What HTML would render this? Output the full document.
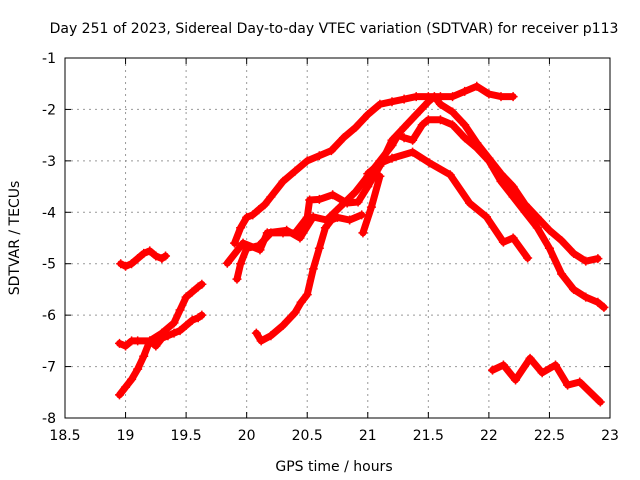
<!DOCTYPE html>
<html><head><meta charset="utf-8"><style>
body{margin:0;background:#fff}
svg{display:block;font-family:"DejaVu Sans","Liberation Sans",sans-serif}
</style></head><body>
<svg id="chart" width="640" height="480" viewBox="0 0 640 480">
<text x="334" y="33" font-size="14" text-anchor="middle">Day 251 of 2023, Sidereal Day-to-day VTEC variation (SDTVAR) for receiver p113</text>
<text x="334" y="471" font-size="14" text-anchor="middle">GPS time / hours</text>
<text transform="translate(19,238) rotate(-90)" font-size="14" text-anchor="middle">SDTVAR / TECUs</text>
<g id="grid"></g><g id="series"></g>
<rect x="65" y="58" width="545" height="360" fill="none" stroke="#000" stroke-width="1"/>
</svg>
<script>
const xTicks=[18.5,19,19.5,20,20.5,21,21.5,22,22.5,23];
const yTicks=[-1,-2,-3,-4,-5,-6,-7,-8];
const s1=[[18.96,-5.0],[19.0,-5.05],[19.05,-5.0],[19.1,-4.9],[19.15,-4.8],[19.2,-4.75],[19.25,-4.85],[19.3,-4.9],[19.33,-4.85]];
const s2=[[18.95,-7.55],[19.0,-7.4],[19.05,-7.25],[19.1,-7.05],[19.15,-6.8],[19.2,-6.5],[19.3,-6.35],[19.4,-6.15],[19.45,-5.9],[19.5,-5.65],[19.55,-5.55],[19.6,-5.45],[19.63,-5.4]];
const s3=[[18.95,-6.55],[19.0,-6.6],[19.05,-6.5],[19.1,-6.5],[19.2,-6.5],[19.25,-6.6],[19.3,-6.45],[19.35,-6.4],[19.4,-6.35],[19.45,-6.3],[19.5,-6.2],[19.55,-6.1],[19.6,-6.05],[19.63,-6.0]];
const s4=[[19.9,-4.6],[19.95,-4.3],[20.0,-4.1],[20.05,-4.05],[20.1,-3.95],[20.15,-3.85],[20.2,-3.7],[20.3,-3.4],[20.4,-3.2],[20.5,-3.0],[20.6,-2.9],[20.7,-2.8],[20.8,-2.55],[20.9,-2.35],[21.0,-2.1],[21.1,-1.9],[21.2,-1.85],[21.3,-1.8],[21.4,-1.75],[21.5,-1.75],[21.6,-1.75],[21.7,-1.75],[21.8,-1.65],[21.9,-1.55],[22.0,-1.7],[22.1,-1.75],[22.2,-1.75]];
const s5=[[19.92,-5.3],[19.95,-5.0],[20.0,-4.7],[20.1,-4.65],[20.2,-4.4],[20.3,-4.4],[20.4,-4.4],[20.5,-4.1],[20.52,-3.76],[20.6,-3.75],[20.71,-3.66],[20.83,-3.82],[20.92,-3.8],[21.0,-3.5],[21.1,-3.1],[21.2,-2.6],[21.3,-2.35],[21.4,-2.1],[21.5,-1.85],[21.55,-1.75],[21.6,-1.9],[21.7,-2.05],[21.8,-2.3],[21.9,-2.65],[22.0,-2.95],[22.1,-3.25],[22.2,-3.5],[22.3,-3.85],[22.4,-4.1],[22.5,-4.35],[22.6,-4.55],[22.7,-4.8],[22.8,-4.95],[22.9,-4.9]];
const s6=[[19.84,-4.99],[19.97,-4.6],[20.11,-4.73],[20.17,-4.4],[20.33,-4.35],[20.44,-4.5],[20.55,-4.09],[20.66,-4.15],[20.77,-3.9],[20.9,-3.6],[21.0,-3.3],[21.1,-3.0],[21.2,-2.7],[21.25,-2.5],[21.3,-2.55],[21.37,-2.6],[21.45,-2.3],[21.5,-2.2],[21.6,-2.2],[21.7,-2.3],[21.8,-2.55],[21.9,-2.75],[22.0,-3.0],[22.1,-3.4],[22.2,-3.7],[22.3,-4.0],[22.4,-4.3],[22.5,-4.7],[22.6,-5.2],[22.7,-5.5],[22.8,-5.65],[22.9,-5.75],[22.95,-5.85]];
const s7=[[20.08,-6.35],[20.12,-6.5],[20.2,-6.4],[20.3,-6.2],[20.4,-5.95],[20.45,-5.75],[20.5,-5.6],[20.55,-5.1],[20.6,-4.7],[20.65,-4.3],[20.7,-4.15],[20.75,-4.1],[20.85,-4.15],[20.95,-4.05]];
const s8=[[21.0,-3.25],[21.1,-3.05],[21.2,-2.95],[21.37,-2.83],[21.51,-3.04],[21.68,-3.27],[21.84,-3.82],[21.98,-4.09],[22.12,-4.58],[22.2,-4.5],[22.32,-4.89]];
const s9=[[20.96,-4.4],[21.03,-3.9],[21.1,-3.3]];
const s10=[[22.03,-7.07],[22.12,-6.97],[22.22,-7.26],[22.34,-6.84],[22.44,-7.12],[22.55,-6.97],[22.65,-7.36],[22.75,-7.3],[22.92,-7.69]];
const allSeries=[s1,s2,s3,s4,s5,s6,s7,s8,s9,s10];
const X0=65,X1=610,Y0=58,Y1=418;
const xs=h=>X0+(h-18.5)/(23-18.5)*(X1-X0);
const ys=v=>Y0+(-1-v)/(7)*(Y1-Y0);
const NS="http://www.w3.org/2000/svg";
const grid=document.getElementById('grid'),ser=document.getElementById('series');
function mk(t,a,p){const e=document.createElementNS(NS,t);for(const k in a)e.setAttribute(k,a[k]);p.appendChild(e);return e;}
xTicks.forEach(t=>{const x=xs(t);
 if(t>18.5&&t<23){const l=mk('line',{x1:x,x2:x,y1:Y0,y2:Y1,stroke:'#999','stroke-dasharray':'2,4'},grid);
 
 }
 mk('line',{x1:x,x2:x,y1:Y1,y2:Y1-6,stroke:'#000'},grid);mk('line',{x1:x,x2:x,y1:Y0,y2:Y0+6,stroke:'#000'},grid);
 const tx=mk('text',{x:x,y:Y1+22,'font-size':14,'text-anchor':'middle'},grid);tx.textContent=t;
 
 });
yTicks.forEach(t=>{const y=ys(t);
 if(t<-1&&t>-8){const l=mk('line',{x1:X0,x2:X1,y1:y,y2:y,stroke:'#999','stroke-dasharray':'2,4'},grid);
 
 }
 mk('line',{x1:X0,x2:X0+6,y1:y,y2:y,stroke:'#000'},grid);mk('line',{x1:X1,x2:X1-6,y1:y,y2:y,stroke:'#000'},grid);
 const tx=mk('text',{x:X0-9,y:y+5,'font-size':14,'text-anchor':'end'},grid);tx.textContent=t;
 
 });
allSeries.forEach((s,i)=>{
 const g=mk('g',{},ser);
 
 
 mk('polyline',{points:s.map(p=>xs(p[0])+','+ys(p[1])).join(' '),fill:'none',stroke:'#f00','stroke-width':7,'stroke-linejoin':'round','stroke-linecap':'round'},g);
 s.forEach(p=>{const x=xs(p[0]),y=ys(p[1]);
  const m=mk('path',{d:`M${x-4.5},${y}h9M${x},${y-4.5}v9`,stroke:'#f00','stroke-width':1.5},g);
  
  });
});
</script>
</body></html>
